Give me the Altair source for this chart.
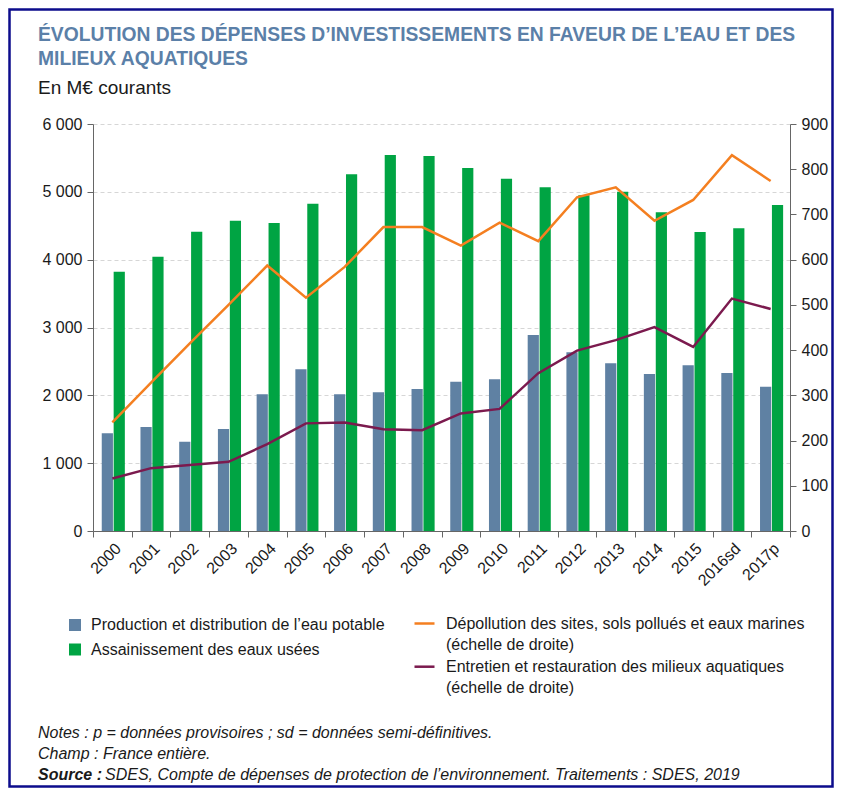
import altair as alt
import pandas as pd

# ---- data ----
years = ["2000", "2001", "2002", "2003", "2004", "2005", "2006", "2007", "2008",
         "2009", "2010", "2011", "2012", "2013", "2014", "2015", "2016sd", "2017p"]
potable = [1440, 1533, 1317, 1504, 2015, 2383, 2015, 2044, 2093,
           2201, 2236, 2889, 2634, 2472, 2314, 2442, 2329, 2128]
assainissement = [3823, 4044, 4413, 4575, 4541, 4826, 5258, 5543, 5528,
                  5351, 5194, 5066, 4948, 5002, 4698, 4408, 4462, 4806]
depollution = [240, 328, 415, 500, 587, 516, 584, 672, 672,
               631, 682, 641, 738, 760, 686, 732, 831, 774]
entretien = [116, 139, 146, 153, 192, 238, 240, 225, 223,
             260, 270, 349, 399, 422, 451, 407, 514, 491]

left_ticks = [0, 1000, 2000, 3000, 4000, 5000, 6000]
right_ticks = [0, 100, 200, 300, 400, 500, 600, 700, 800, 900]

S_POT = "Production et distribution de l’eau potable"
S_ASS = "Assainissement des eaux usées"
S_DEP = "Dépollution des sites, sols pollués et eaux marines"
S_ENT = "Entretien et restauration des milieux aquatiques"
S_ECH1 = "(échelle de droite)"
S_ECH2 = "(échelle de droite) "

TITLE1 = "ÉVOLUTION DES DÉPENSES D’INVESTISSEMENTS EN FAVEUR DE L’EAU ET DES"
TITLE2 = "MILIEUX AQUATIQUES"
SUBTITLE = "En M€ courants"
NOTE1 = "Notes : p = données provisoires ; sd = données semi-définitives."
NOTE2 = "Champ : France entière."
NOTE3A = "Source :"
NOTE3B = "SDES, Compte de dépenses de protection de l’environnement. Traitements : SDES, 2019"

# ---- styles ----
FONT = "Liberation Sans"
BLUE = "#5f81a3"
GREEN = "#00a443"
ORANGE = "#f47f20"
PURPLE = "#7b1a4e"
NAVY = "#0c0c8c"
TITLE_COLOR = "#5b80a8"
AXIS_COLOR = "#666666"
TEXT_COLOR = "#1a1a1a"

W, H = 697, 407
PAD = {"left": 85, "top": 116, "right": 44, "bottom": 257}

bars_df = pd.DataFrame({
    "annee": years * 2,
    "serie": [S_POT] * len(years) + [S_ASS] * len(years),
    "valeur": potable + assainissement,
})
lines_df = pd.DataFrame({
    "annee": years * 2,
    "serie": [S_DEP] * len(years) + [S_ENT] * len(years),
    "valeur": depollution + entretien,
})

x_axis = alt.Axis(
    title=None, labelAngle=-45, labelFontSize=16, labelFont=FONT,
    labelColor=TEXT_COLOR, tickBand="extent", tickSize=6, tickColor=AXIS_COLOR,
    domainColor=AXIS_COLOR, labelPadding=3, grid=False,
)
x_enc = alt.X("annee:N", scale=alt.Scale(domain=years, paddingInner=0, paddingOuter=0), axis=x_axis)

bars = alt.Chart(bars_df).mark_bar().encode(
    x=x_enc,
    xOffset=alt.XOffset("serie:N", scale=alt.Scale(domain=[S_POT, S_ASS], paddingInner=0.06,
                                                   paddingOuter=0.656, align=0.56)),
    y=alt.Y("valeur:Q", scale=alt.Scale(domain=[0, 6000], nice=False),
            axis=alt.Axis(title=None, values=left_ticks,
                          labelExpr="replace(format(datum.value, ','), ',', ' ')",
                          grid=True, gridDash=[4, 3], gridColor="#d6d6d6",
                          tickSize=6, tickColor=AXIS_COLOR, domainColor=AXIS_COLOR,
                          labelFont=FONT, labelFontSize=16, labelColor=TEXT_COLOR,
                          labelPadding=5)),
    fill=alt.Fill("serie:N", scale=alt.Scale(domain=[S_POT, S_ASS], range=[BLUE, GREEN]),
                  legend=alt.Legend(title=None, orient="none", legendX=-26, legendY=493,
                                    direction="vertical", symbolType="square", symbolSize=144,
                                    symbolStrokeWidth=0, labelFont=FONT, labelFontSize=16,
                                    labelColor=TEXT_COLOR, labelOffset=8, rowPadding=8.5,
                                    padding=0, labelLimit=600)),
)

lines = alt.Chart(lines_df).mark_line(strokeWidth=2.5).encode(
    x=x_enc,
    y=alt.Y("valeur:Q", scale=alt.Scale(domain=[0, 900], nice=False),
            axis=alt.Axis(orient="right", title=None, values=right_ticks, grid=False,
                          tickSize=6, tickColor=AXIS_COLOR, domainColor=AXIS_COLOR,
                          labelFont=FONT, labelFontSize=16, labelColor=TEXT_COLOR,
                          labelPadding=5)),
    stroke=alt.Stroke("serie:N",
                      scale=alt.Scale(domain=[S_DEP, S_ECH1, S_ENT, S_ECH2],
                                      range=[ORANGE, "transparent", PURPLE, "transparent"]),
                      legend=alt.Legend(title=None, orient="none", legendX=320, legendY=488,
                                        direction="vertical", symbolType="stroke", symbolSize=400,
                                        symbolStrokeWidth=2.5, labelFont=FONT, labelFontSize=16,
                                        labelColor=TEXT_COLOR, labelOffset=10, rowPadding=1.6,
                                        padding=0, labelLimit=600)),
)


def txt(s, x, y, size=16, weight="normal", style="normal", color=TEXT_COLOR):
    return alt.Chart(pd.DataFrame({"t": [s]})).mark_text(
        align="left", baseline="alphabetic", fontSize=size, fontWeight=weight,
        fontStyle=style, font=FONT, color=color,
    ).encode(text="t:N", x=alt.value(x), y=alt.value(y))


texts = [
    txt(TITLE1, -55, -83.3, size=19.3, weight="bold", color=TITLE_COLOR),
    txt(TITLE2, -55, -59, size=19.3, weight="bold", color=TITLE_COLOR),
    txt(SUBTITLE, -55, -30.5, size=19),
    txt(NOTE1, -55, 614, style="italic"),
    txt(NOTE2, -55, 635, style="italic"),
    txt(NOTE3A, -55, 655.5, weight="bold", style="italic"),
    txt(NOTE3B, 12, 655.5, style="italic"),
]

frame = alt.Chart(pd.DataFrame({"k": [0]})).mark_rect(
    filled=False, stroke=NAVY, strokeWidth=2.5
).encode(x=alt.value(-83.5), x2=alt.value(739.5), y=alt.value(-114.5), y2=alt.value(662.5))

chart = (
    alt.layer(bars, lines, *texts, frame)
    .resolve_scale(y="independent")
    .properties(width=W, height=H, padding=PAD, autosize=alt.AutoSizeParams(type="none"),
                background="white")
    .configure_view(stroke=None)
)

chart.save("out.html", embed_options={"renderer": "svg", "actions": False})
